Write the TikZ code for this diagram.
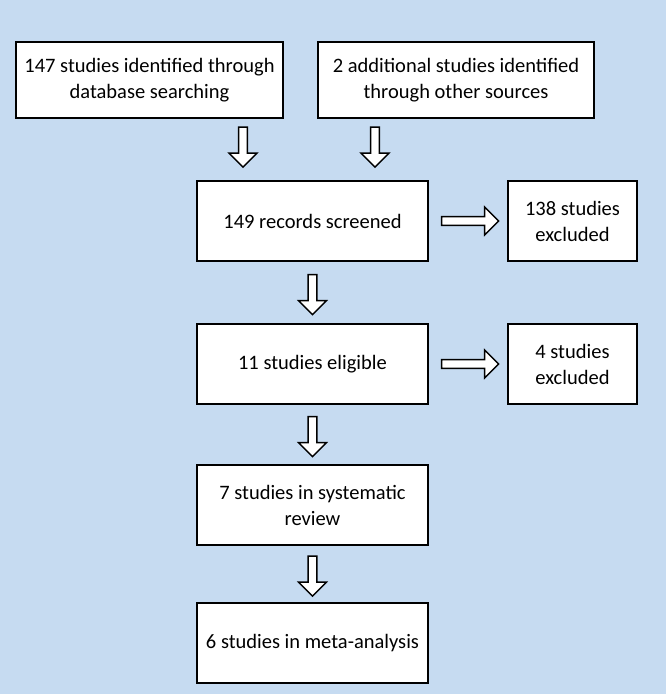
\documentclass[tikz,border=0pt]{standalone}
\usepackage{fontspec}
\setmainfont{Carlito}
\usetikzlibrary{shapes.arrows, positioning, calc}
\definecolor{bgblue}{HTML}{C6DBF1}
\tikzstyle{box} = [rectangle, draw=black, line width=1.6pt, fill=white, text centered, align=center, font=\fontsize{20.5}{26}\selectfont, minimum height=80pt]
\tikzstyle{hollow} = [single arrow, draw=black, line width=1.4pt, fill=white, minimum height=40pt, minimum width=28pt, single arrow head extend=6pt, inner sep=2pt]

\begin{document}
\begin{tikzpicture}[x=1pt, y=-1pt]
        \fill[bgblue] (0,0) rectangle (666,694);
        \useasboundingbox (0,0) rectangle (666,694);
        \node (db) [box, minimum width=267pt, minimum height=76pt] at (149.5,80) {147 studies identified through\\database searching};
        \node (other) [box, minimum width=276pt, minimum height=76pt] at (456,80) {2 additional studies identified\\through other sources};
        \node (screened) [box, minimum width=231pt] at (312.5,221) {149 records screened};
        \node (excl1) [box, minimum width=129pt] at (572.5,221) {138 studies\\excluded};
        \node (eligible) [box, minimum width=231pt] at (312.5,364) {11 studies eligible};
        \node (excl2) [box, minimum width=129pt] at (572.5,364) {4 studies\\excluded};
        \node (review) [box, minimum width=231pt] at (312.5,505) {7 studies in systematic\\review};
        \node (meta) [box, minimum width=231pt] at (312.5,643) {6 studies in meta-analysis};

        % hollow arrows
        \node [hollow, rotate=-90] at (243,145) {};
        \node [hollow, rotate=-90] at (375,145) {};
        \node [hollow, minimum height=57pt] at ($(screened.east)!0.5!(excl1.west)$) {};
        \node [hollow, rotate=-90] at ($(screened.south)!0.5!(eligible.north)$) {};
        \node [hollow, minimum height=57pt] at ($(eligible.east)!0.5!(excl2.west)$) {};
        \node [hollow, rotate=-90] at ($(eligible.south)!0.5!(review.north)$) {};
        \node [hollow, rotate=-90] at ($(review.south)!0.5!(meta.north)$) {};
    \end{tikzpicture}
\end{document}
